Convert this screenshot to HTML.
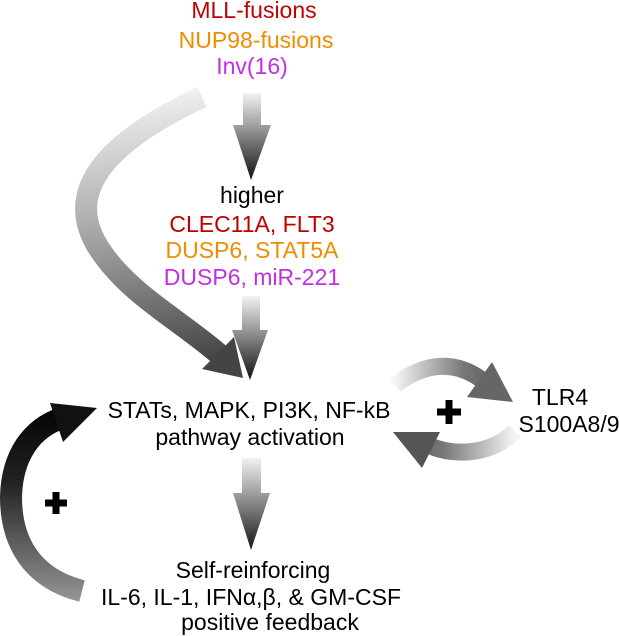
<!DOCTYPE html>
<html><head><style>
body{margin:0;background:#fff;}
svg{display:block;font-family:"Liberation Sans",sans-serif;}
</style></head><body>
<svg width="619" height="636" viewBox="0 0 619 636">
<defs>
<linearGradient id="a1" gradientUnits="userSpaceOnUse" x1="0" y1="93" x2="0" y2="180"><stop offset="0" stop-color="#f2f2f2"/><stop offset="0.4" stop-color="#999"/><stop offset="1" stop-color="#111"/></linearGradient>
<linearGradient id="a2" gradientUnits="userSpaceOnUse" x1="0" y1="296" x2="0" y2="380"><stop offset="0" stop-color="#f2f2f2"/><stop offset="0.4" stop-color="#999"/><stop offset="1" stop-color="#111"/></linearGradient>
<linearGradient id="a3" gradientUnits="userSpaceOnUse" x1="0" y1="458" x2="0" y2="552"><stop offset="0" stop-color="#f2f2f2"/><stop offset="0.4" stop-color="#999"/><stop offset="1" stop-color="#111"/></linearGradient>
<linearGradient id="cv" gradientUnits="userSpaceOnUse" x1="190" y1="90" x2="240" y2="380"><stop offset="0" stop-color="#f0f0f0"/><stop offset="0.5" stop-color="#999"/><stop offset="1" stop-color="#333"/></linearGradient>
<linearGradient id="lf" gradientUnits="userSpaceOnUse" x1="0" y1="605" x2="0" y2="400"><stop offset="0" stop-color="#999"/><stop offset="0.6" stop-color="#222"/><stop offset="1" stop-color="#000"/></linearGradient>
<linearGradient id="rt" gradientUnits="userSpaceOnUse" x1="395" y1="0" x2="510" y2="0"><stop offset="0" stop-color="#f5f5f5"/><stop offset="0.6" stop-color="#777"/><stop offset="1" stop-color="#555"/></linearGradient>
<linearGradient id="rb" gradientUnits="userSpaceOnUse" x1="515" y1="0" x2="395" y2="0"><stop offset="0" stop-color="#f5f5f5"/><stop offset="0.6" stop-color="#777"/><stop offset="1" stop-color="#555"/></linearGradient>
</defs>
<g text-anchor="middle" font-size="23">
<text x="254" y="18" fill="#c00000">MLL-fusions</text>
<text x="256" y="48" fill="#f08c00">NUP98-fusions</text>
<text x="252" y="74" fill="#c030e0">Inv(16)</text>
<text x="252" y="203" fill="#000">higher</text>
<text x="252" y="232" fill="#c00000">CLEC11A, FLT3</text>
<text x="252" y="258" fill="#f08c00">DUSP6, STAT5A</text>
<text x="252" y="285" fill="#c030e0">DUSP6, miR-221</text>
<text x="249" y="418" fill="#000">STATs, MAPK, PI3K, NF-kB</text>
<text x="250" y="445" fill="#000">pathway activation</text>
<text x="253" y="578" fill="#000">Self-reinforcing</text>
<text x="251" y="605" fill="#000">IL-6, IL-1, IFNα,β, &amp; GM-CSF</text>
<text x="270" y="630" fill="#000">positive feedback</text>
<text x="560" y="405" fill="#000">TLR4</text>
<text x="569" y="432" fill="#000">S100A8/9</text>
</g>
<path d="M202,97 C110,140 60,190 100,250 C130,295 180,320 220,355" fill="none" stroke="url(#cv)" stroke-width="22"/>
<polygon points="234,337 202,369 243,378" fill="#444"/>
<rect x="243" y="93" width="18" height="34" fill="url(#a1)"/>
<polygon points="233,125 271,125 251,180" fill="url(#a1)"/>
<rect x="242" y="296" width="18" height="36" fill="url(#a2)"/>
<polygon points="232,330 268,330 250,380" fill="url(#a2)"/>
<rect x="242" y="458" width="19" height="37" fill="url(#a3)"/>
<polygon points="233,493 270,493 251,550" fill="url(#a3)"/>
<path d="M82,591 C30,578 11,540 11,497 C12,455 32,428 62,418" fill="none" stroke="url(#lf)" stroke-width="22"/>
<polygon points="50,403 97,408 63,442" fill="#111"/>
<path d="M56,492 v22 M45,503 h22" stroke="#000" stroke-width="7"/>
<path d="M395,385 C425,362 455,360 482,380" fill="none" stroke="url(#rt)" stroke-width="17"/>
<polygon points="492,362 513,402 467,397" fill="#666"/>
<path d="M515,431 C495,452 460,458 430,446" fill="none" stroke="url(#rb)" stroke-width="17"/>
<polygon points="393,432 440,432 422,468" fill="#555"/>
<path d="M449,400 v24 M437,412 h24" stroke="#000" stroke-width="7"/>
</svg>
</body></html>
